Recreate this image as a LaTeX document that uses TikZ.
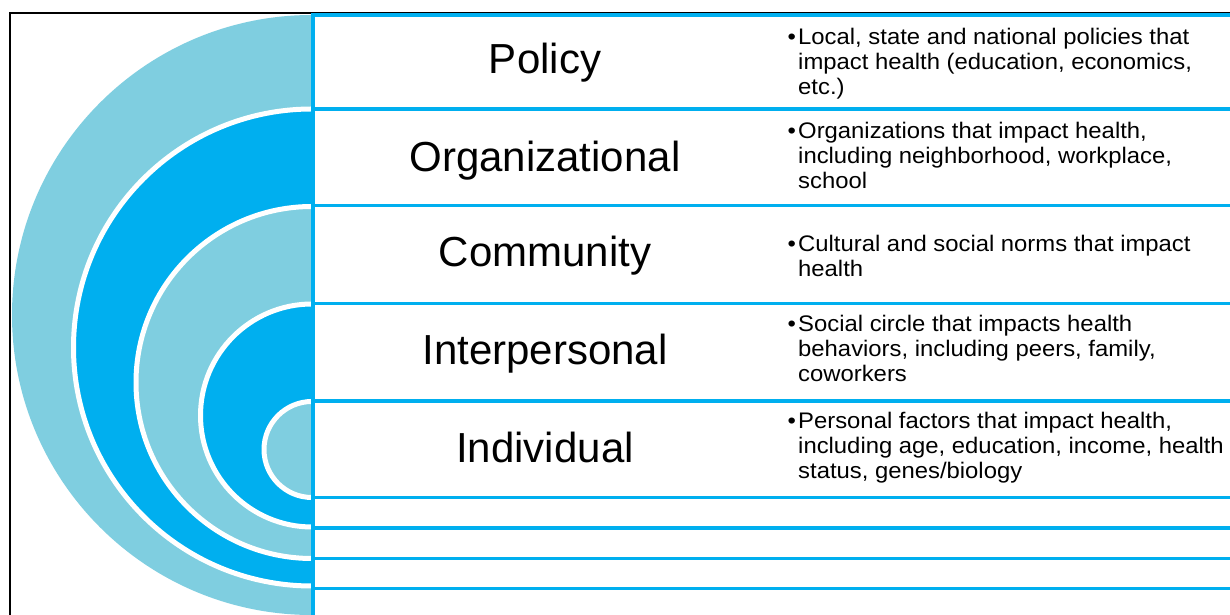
\documentclass[tikz,border=0pt]{standalone}
\usepackage{fontspec}
\setmainfont{Liberation Sans}
\newfontfamily\bodyfont[FakeStretch=1.06]{Liberation Sans}
\definecolor{ringlight}{RGB}{127,206,224}
\definecolor{ringdark}{RGB}{0,175,239}
\begin{document}
\begin{tikzpicture}[x=1pt,y=1pt,
  gap/.style={draw=white, line width=5pt},
  rowbox/.style={draw=ringdark, line width=3.6pt},
  title/.style={anchor=base, inner sep=0pt, font=\fontsize{42}{48}\selectfont},
  note/.style={anchor=base west, align=left, inner sep=0pt,
    font=\bodyfont\fontsize{22.5}{25}\selectfont},
]
\useasboundingbox (0,0) rectangle (1230,615);
\clip (0,0) rectangle (1230,615);
\fill[white] (0,0) rectangle (1230,615);

% slide frame
\draw[black, line width=2pt] (9.5,-5) -- (9.5,602.2) -- (1240,602.2);

% nested half discs (outermost first)
\fill[ringlight] (313,600) -- (312,600) arc[start angle=90, end angle=270, radius=300] -- (313,0) -- cycle;
\foreach \cy/\r/\col in {267.5/238.5/ringdark, 232.5/176/ringlight, 199.5/111.5/ringdark, 165.5/48/ringlight}{
  \fill[\col] (313,\cy+\r) -- (312,\cy+\r) arc[start angle=90, end angle=270, radius=\r] -- (313,\cy-\r) -- cycle;
  \draw[gap] (312,\cy+\r) arc[start angle=90, end angle=270, radius=\r];
}

% level rows
\foreach \top/\bot in {599.7/506, 506/409.5, 409.5/311.5, 311.5/214, 214/117.5, 117.5/87, 87/56.5, 56.5/26.5, 26.5/-25}{
  \draw[rowbox] (313,\top) rectangle (1245,\bot);
}

% level names
\node[title] (policy) at (545,541) {Policy};
\node[title] (org) at (545,443.5) {Organizational};
\node[title] (comm) at (545,348) {Community};
\node[title] (inter) at (545,250) {Interpersonal};
\node[title] (indiv) at (545,152) {Individual};

% descriptions (anchored on the baseline of their last line)
\newcommand{\bul}{\llap{•\hspace{2.3pt}}}
\node[note] (policyd) at (798,520) {\bul Local, state and national policies that\\impact health (education, economics,\\etc.)};
\node[note] (orgd) at (798,426.5) {\bul Organizations that impact health,\\including neighborhood, workplace,\\school};
\node[note] (commd) at (798,338) {\bul Cultural and social norms that impact\\health};
\node[note] (interd) at (798,233.3) {\bul Social circle that impacts health\\behaviors, including peers, family,\\coworkers};
\node[note] (indivd) at (798,136.7) {\bul Personal factors that impact health,\\including age, education, income, health\\status, genes/biology};
\end{tikzpicture}
\end{document}
